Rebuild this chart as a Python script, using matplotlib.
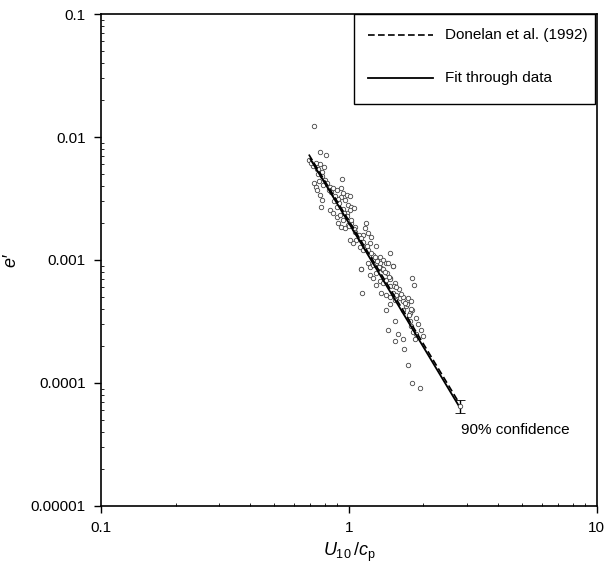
import matplotlib
matplotlib.use("Agg")
import matplotlib.pyplot as plt
from matplotlib.patches import Rectangle
from matplotlib.ticker import FixedLocator, LogLocator, NullFormatter

plt.rcParams['font.family'] = ['Liberation Sans', 'DejaVu Sans']
plt.rcParams['mathtext.fontset'] = 'custom'
plt.rcParams['mathtext.rm'] = 'Liberation Sans'
plt.rcParams['mathtext.it'] = 'Liberation Sans:italic'

# measured points (U10/cp, e')
obs_x = [0.727, 0.762, 0.810, 0.692, 0.736, 0.764, 0.793, 0.745, 0.776, 0.752,
         0.800, 0.937, 0.727, 0.736, 0.745, 0.764, 0.776, 0.769, 0.838, 0.865,
         0.892, 0.934, 0.949, 0.979, 1.009, 0.929, 0.906, 0.964, 0.994, 1.025,
         1.048, 1.009, 0.979, 0.838, 0.865, 0.892, 0.920, 0.949, 0.906, 0.934,
         0.964, 0.994, 1.025, 1.057, 1.171, 1.160, 1.197, 1.234, 1.143, 1.108,
         1.074, 1.041, 1.009, 1.108, 1.143, 1.178, 1.285, 1.215, 1.463, 1.334,
         1.375, 1.419, 1.509, 1.253, 1.293, 1.118, 1.215, 1.354,
         1.118, 1.197, 1.253, 1.334, 1.441, 1.509, 1.375, 1.293, 1.215, 1.253,
         1.334, 1.293, 1.375, 1.419, 1.463, 1.533, 1.463, 1.800, 1.829, 1.135,
         1.354, 1.419, 1.463, 1.509, 1.556, 1.533, 1.463, 1.419, 1.606, 1.656,
         1.735, 1.789, 1.708, 1.656, 1.762, 1.806, 1.533, 1.441, 1.762, 1.789,
         1.817, 1.875, 1.846, 1.581, 1.656, 1.533, 1.667, 1.740, 1.800, 1.945,
         1.600, 1.650, 1.720, 1.780, 1.860, 1.900, 1.950, 2.000,
         0.720, 0.750, 0.780, 0.820, 0.850, 0.880, 0.910, 0.950, 0.980, 1.020,
         1.050, 1.100, 1.140, 1.200, 1.250, 1.300, 1.380, 1.420, 1.470, 1.520,
         0.705, 0.760, 0.790, 0.830, 0.870, 0.900, 0.960, 1.000, 1.060, 1.120,
         1.180, 1.230, 1.270, 1.320, 1.400, 1.450, 1.550, 1.620, 1.680, 1.750]
obs_y = [0.01236, 0.0076, 0.00718, 0.0065, 0.00611, 0.00599, 0.00574, 0.00546, 0.00523, 0.0050,
         0.00447, 0.00456, 0.00425, 0.00395, 0.00371, 0.00338, 0.00307, 0.00271, 0.00395, 0.00383,
         0.00371, 0.00383, 0.00348, 0.00338, 0.00331, 0.00323, 0.00311, 0.00307, 0.0028, 0.00271,
         0.00263, 0.00255, 0.00239, 0.00255, 0.00239, 0.00225, 0.00232, 0.00211, 0.00199, 0.00187,
         0.00181, 0.00193, 0.00199, 0.00187, 0.00199, 0.00181, 0.00165, 0.00155, 0.0016, 0.0015,
         0.00145, 0.00137, 0.00145, 0.00128, 0.00121, 0.00128, 0.00131, 0.00137, 0.00115, 0.00106,
         0.0010, 0.00094, 0.0009, 0.0010, 0.00094, 0.00085, 0.00088, 0.00086,
         0.00084, 0.00094, 0.00091, 0.00094, 0.00095, 0.00089, 0.00083, 0.00078, 0.00076, 0.00071,
         0.00067, 0.00063, 0.00065, 0.00069, 0.00071, 0.00065, 0.00061, 0.00072, 0.00063, 0.00054,
         0.00054, 0.00052, 0.0005, 0.00054, 0.00052, 0.00047, 0.00044, 0.00039, 0.00049, 0.00046,
         0.00049, 0.00046, 0.00042, 0.00039, 0.00037, 0.00039, 0.00032, 0.00027, 0.00032, 0.00029,
         0.00026, 0.00025, 0.00023, 0.00025, 0.00023, 0.00022, 0.00019, 0.00014, 0.0001, 0.000091,
         0.00058, 0.00050, 0.00044, 0.00040, 0.00034, 0.00030, 0.00027, 0.00024,
         0.0058, 0.0055, 0.0048, 0.0042, 0.0036, 0.0033, 0.0029, 0.0026, 0.0023, 0.0021,
         0.0018, 0.0016, 0.0014, 0.0012, 0.0011, 0.00098, 0.00085, 0.00078, 0.0007, 0.00062,
         0.0062, 0.0044, 0.0041, 0.0037, 0.0030, 0.0027, 0.0024, 0.0019, 0.0017, 0.0015,
         0.0013, 0.00115, 0.00105, 0.00088, 0.00080, 0.00073, 0.00060, 0.00053, 0.00045, 0.00036]

# power-law lines (end points)
donelan_x = [0.69, 2.76]
donelan_y = [7.2e-3, 7.1e-5]
fit_x = [0.70, 2.78]
fit_y = [6.6e-3, 6.5e-5]

# confidence marker
conf_x = [2.80]
conf_y = [6.5e-5]
conf_lo = [0.8e-5]
conf_hi = [0.8e-5]

xticks = [0.1, 1, 10]
xticklabels = ["0.1", "1", "10"]
yticks = [1e-5, 1e-4, 1e-3, 1e-2, 1e-1]
yticklabels = ["0.00001", "0.0001", "0.001", "0.01", "0.1"]

fig = plt.figure(figsize=(6.04, 5.67), dpi=100)
ax = fig.add_axes([0.167, 0.1076, 0.821, 0.8677])
ax.set_xscale("log")
ax.set_yscale("log")
ax.set_xlim(0.1, 10)
ax.set_ylim(1e-5, 0.1)

ax.plot(obs_x, obs_y, "o", ls="none", ms=3.2, mfc="white", mec="#444444", mew=0.6)
ax.plot(fit_x, fit_y, color="black", lw=1.3)
ax.plot(donelan_x, donelan_y, color="black", lw=1.2, ls=(0, (4, 2)))
ax.errorbar(conf_x, conf_y, yerr=[conf_lo, conf_hi], fmt="o", ms=3.2, mfc="white",
            mec="#444444", mew=0.6, ecolor="black", elinewidth=1.0, capsize=3.5, capthick=1.0)
ax.text(2.83, 4.15e-5, "90% confidence", fontsize=11, ha="left", va="center")

# legend box
ax.add_patch(Rectangle((0.510, 0.817), 0.486, 0.183, transform=ax.transAxes,
                       fill=False, ec="black", lw=1.0))
ax.plot([0.538, 0.669], [0.957, 0.957], transform=ax.transAxes, color="black",
        lw=1.2, ls=(0, (4, 2)))
ax.plot([0.538, 0.669], [0.870, 0.870], transform=ax.transAxes, color="black", lw=1.3)
ax.text(0.694, 0.957, "Donelan et al. (1992)", transform=ax.transAxes, fontsize=11, va="center")
ax.text(0.694, 0.870, "Fit through data", transform=ax.transAxes, fontsize=11, va="center")

ax.xaxis.set_major_locator(FixedLocator(xticks))
ax.set_xticklabels(xticklabels)
ax.yaxis.set_major_locator(FixedLocator(yticks))
ax.set_yticklabels(yticklabels)
ax.xaxis.set_minor_locator(LogLocator(base=10, subs=range(2, 10)))
ax.yaxis.set_minor_locator(LogLocator(base=10, subs=range(2, 10)))
ax.xaxis.set_minor_formatter(NullFormatter())
ax.yaxis.set_minor_formatter(NullFormatter())
ax.tick_params(which="major", direction="out", length=5, width=1.0, labelsize=11, pad=6)
ax.tick_params(which="minor", direction="in", length=2.5, width=0.6)

for sp in ax.spines.values():
    sp.set_linewidth(1.2)

ax.set_xlabel(r"$U_{10}\,/c_{\mathrm{p}}$", fontsize=13, labelpad=4)
ax.set_ylabel("e\u2032", fontsize=13, style="italic", labelpad=8)

fig.savefig("out.png", dpi=100)
